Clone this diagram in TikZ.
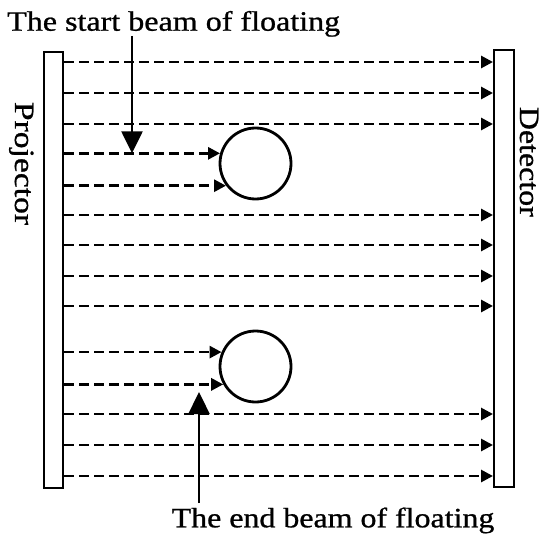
\documentclass[tikz,border=0pt]{standalone}
\usepackage{fontspec}
\setmainfont{Liberation Serif}
\newfontfamily\scanfont{Liberation Serif}[FakeBold=0.8]
\usetikzlibrary{arrows.meta}
\tikzset{
  bar/.style={draw, line width=2.4pt, rectangle, inner sep=0pt, anchor=north west},
  ball/.style={draw, line width=2.8pt, circle, inner sep=0pt, minimum size=71pt},
  beam/.style={line width=2.8pt, dash pattern=on 10pt off 5pt, -{Triangle[length=12pt,width=12pt]}},
  pointer/.style={line width=2.4pt, -{Triangle[length=22pt,width=21pt]}},
  lbl/.style={inner sep=0pt, font=\scanfont\fontsize{28}{32}\selectfont}
}
\begin{document}
\begin{tikzpicture}[x=1pt,y=-1pt]
\path[use as bounding box] (0,0) rectangle (545,540);
% bars
\node[bar, minimum width=19pt, minimum height=436pt] (P) at (43,51) {};
\node[bar, minimum width=20pt, minimum height=437pt] (D) at (493,49) {};
% balls
\node[ball] (c1) at (255.5,163.5) {};
\node[ball] (c2) at (255.5,366.5) {};
% full beams
\foreach \y in {62,93,124,215,245,276,306,414,445,476}
  \draw[beam] (P.east |- 0,\y) -- (D.west |- 0,\y);
% blocked beams
\coordinate (b1) at (c1.164.5);
\coordinate (b2) at (c1.217.3);
\coordinate (b3) at (c2.157.6);
\coordinate (b4) at (c2.209.5);
\foreach \b in {b1,b2,b3,b4}
  \draw[beam] (P.east |- \b) -- (\b);
% labels
\node[lbl, anchor=base west] (ts) at (7,30.7) {\scalebox{1.145}[1]{The start beam of floating}};
\node[lbl, anchor=base west] (te) at (171.5,527.3) {\scalebox{1.14}[1]{The end beam of floating}};
\node[lbl, rotate=-90, anchor=base west] (pl) at (15,101.7) {\scalebox{1.2}[1]{Projector}};
\node[lbl, rotate=-90, anchor=base west] (dl) at (520,106.7) {\scalebox{1.14}[1]{Detector}};
% pointers
\coordinate (s0) at (132,36);
\coordinate (e0) at (199,503);
\draw[pointer] (s0) -- (s0 |- b1);
\draw[pointer] (e0) -- (199,392);
\end{tikzpicture}
\end{document}
